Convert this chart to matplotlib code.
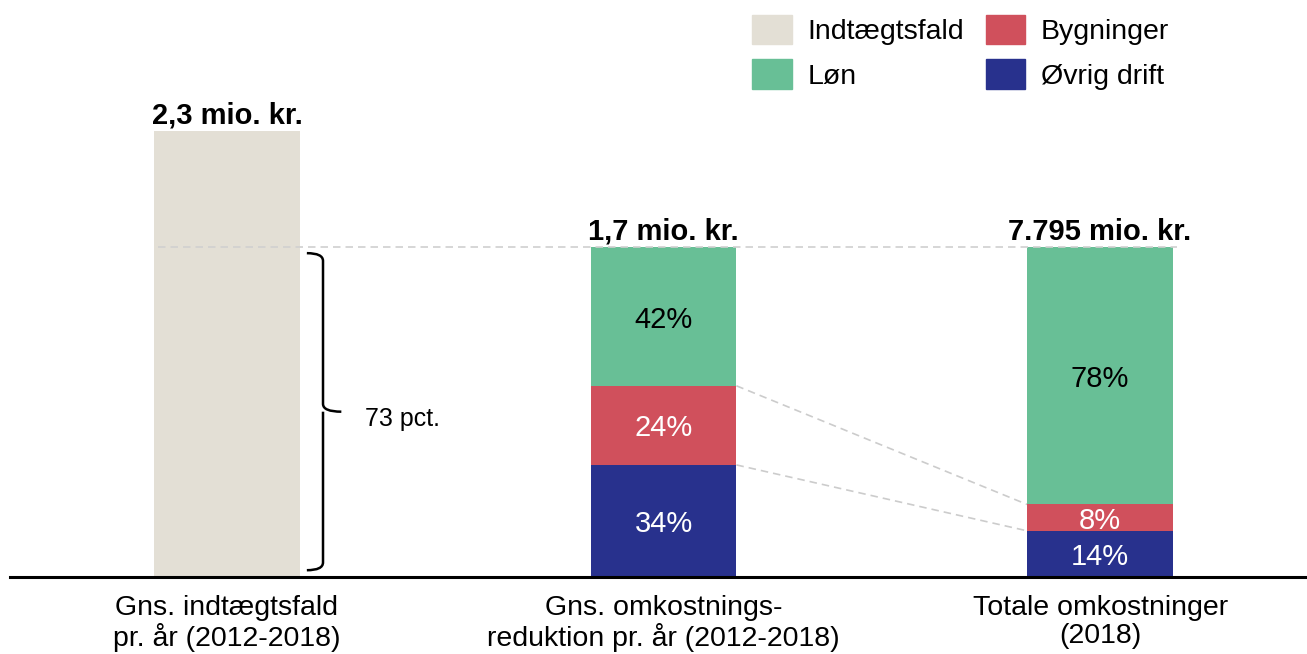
import matplotlib.pyplot as plt
from matplotlib.patches import PathPatch
from matplotlib.path import Path

plt.rcParams['font.family'] = ['Liberation Sans', 'DejaVu Sans']

# Data
categories = ['Gns. indtægtsfald\npr. år (2012-2018)',
              'Gns. omkostnings-\nreduktion pr. år (2012-2018)',
              'Totale omkostninger\n(2018)']
totals = ['2,3 mio. kr.', '1,7 mio. kr.', '7.795 mio. kr.']
income_drop = 2.3          # mio. kr.
cost_reduction = 1.7       # mio. kr.
segments = ['Øvrig drift', 'Bygninger', 'Løn']
shares_reduction = [0.34, 0.24, 0.42]
shares_total = [0.14, 0.08, 0.78]
brace_label = '73 pct.'

colors = {'Indtægtsfald': '#E3DFD5', 'Løn': '#68BF96',
          'Bygninger': '#D0505C', 'Øvrig drift': '#28318D'}
text_colors = {'Løn': 'black', 'Bygninger': 'white', 'Øvrig drift': 'white'}

fig = plt.figure(figsize=(13.07, 6.54), dpi=100)
ax = fig.add_axes([10 / 1307, 77 / 654, 1297 / 1307, 577 / 654])

w = 0.334
x = [0, 1, 2]

# bar 1
ax.bar(x[0], income_drop, width=w, color=colors['Indtægtsfald'])

# bar 2 and 3 (bar 3 normalised to same height as bar 2)
tops = {}
for xi, shares in [(x[1], shares_reduction), (x[2], shares_total)]:
    bottom = 0
    for seg, s in zip(segments, shares):
        h = s * cost_reduction
        ax.bar(xi, h, width=w, bottom=bottom, color=colors[seg])
        lbl = f'{round(s * 100)}%'
        if h < 0.1:
            ax.text(xi, bottom + h / 2 + 0.015, lbl, ha='center', va='center_baseline',
                    fontsize=21, color='white', zorder=4,
                    bbox=dict(boxstyle='square,pad=0.05', fc=colors[seg], ec='none'))
        else:
            ax.text(xi, bottom + h / 2, lbl, ha='center', va='center_baseline',
                    fontsize=21, color=text_colors[seg])
        bottom += h
        tops[(xi, seg)] = bottom

# connector lines
for seg in ['Øvrig drift', 'Bygninger']:
    ax.plot([x[1] + w / 2, x[2] - w / 2], [tops[(x[1], seg)], tops[(x[2], seg)]],
            ls=(0, (4.5, 3)), color='#cccccc', lw=1.2, zorder=0)
ax.plot([x[0] - w / 2 + 0.01, x[2] + w / 2 + 0.01], [cost_reduction] * 2,
        ls=(0, (4.5, 3)), color='#d0d0d0', lw=1.2, zorder=3)

# totals
for xi, v, t in zip(x, [income_drop, cost_reduction, cost_reduction], totals):
    ax.text(xi, v + 0.04, t, ha='center', va='baseline', fontsize=21, fontweight='bold')

# brace
x0, x1, x2 = 0.183, 0.22, 0.262
yb, yt = 0.035, 1.67
ym = (yb + yt) / 2
r = 0.04
verts = [(x0, yt), (x1, yt), (x1, yt - r), (x1, yt - r),
         (x1, ym + r), (x1, ym), (x2, ym),
         (x1, ym), (x1, ym - r), (x1, ym - r),
         (x1, yb + r), (x1, yb), (x0, yb)]
codes = [Path.MOVETO, Path.CURVE3, Path.CURVE3, Path.LINETO,
         Path.LINETO, Path.CURVE3, Path.CURVE3,
         Path.MOVETO, Path.CURVE3, Path.LINETO,
         Path.LINETO, Path.CURVE3, Path.CURVE3]
ax.add_patch(PathPatch(Path(verts, codes), fc='none', ec='black', lw=1.8))
ax.text(0.316, ym - 0.04, brace_label, ha='left', va='center', fontsize=18)

ax.set_xlim(-0.497, 2.474)
ax.set_ylim(0, 577 / 446 * income_drop)
ax.set_xticks(x)
ax.set_xticklabels(categories, fontsize=20.5, linespacing=1.1)
ax.tick_params(axis='x', length=0, pad=13)
ax.set_yticks([])
for s in ['top', 'left', 'right']:
    ax.spines[s].set_visible(False)
ax.spines['bottom'].set_linewidth(2.2)

handles = [plt.Rectangle((0, 0), 1, 1, color=colors[k])
           for k in ['Indtægtsfald', 'Løn', 'Bygninger', 'Øvrig drift']]
fig.legend(handles, ['Indtægtsfald', 'Løn', 'Bygninger', 'Øvrig drift'],
           ncol=2, loc='upper left', bbox_to_anchor=(752 / 1307, 1 - 15 / 654),
           frameon=False, fontsize=20.5, handlelength=1.4, handleheight=1.2,
           borderpad=0, borderaxespad=0, columnspacing=0.75, labelspacing=0.5,
           handletextpad=0.55)

fig.savefig('out.png', dpi=100)
